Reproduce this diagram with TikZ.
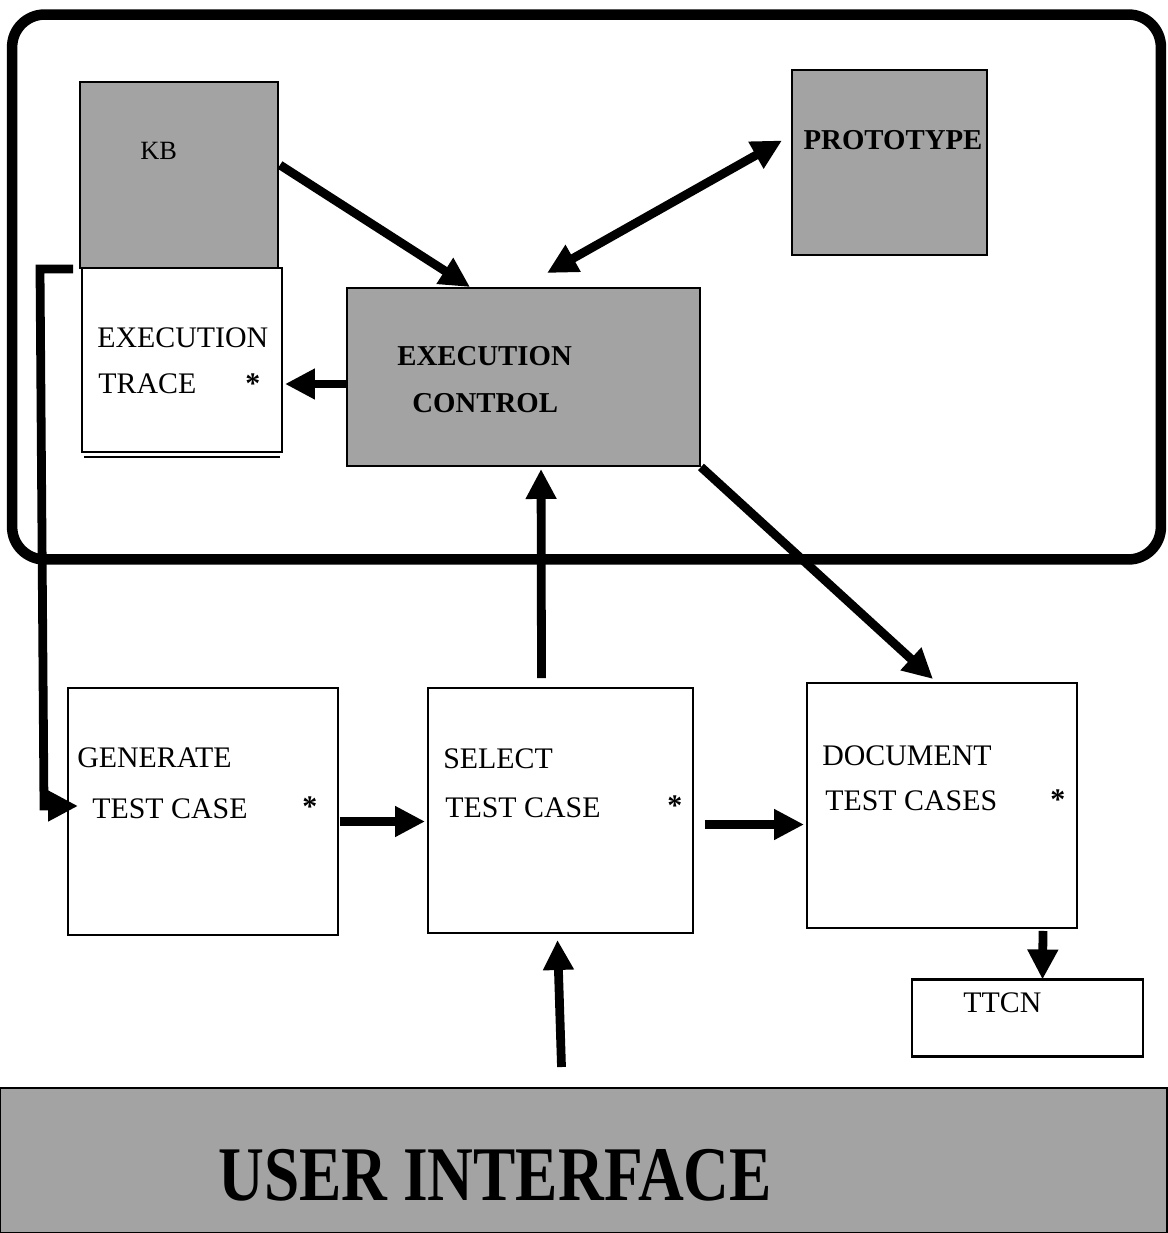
\documentclass[tikz,border=0pt]{standalone}
\usepackage{fontspec}
\usepackage{graphicx}
\setmainfont{Liberation Serif}
\usetikzlibrary{arrows.meta,calc}
\definecolor{screen}{gray}{0.64}
\begin{document}
\begin{tikzpicture}[x=0.02cm,y=-0.02cm,
  box/.style={draw=black,line width=1.5pt,inner sep=0,outer sep=0},
  shaded/.style={box,fill=screen},
  lbl/.style={inner sep=0,anchor=base west,font=\fontsize{17}{21}\selectfont},
  star/.style={lbl,font=\fontsize{17}{21}\selectfont\bfseries},
  blbl/.style={inner sep=0,anchor=base west,font=\fontsize{16.4}{20}\selectfont\bfseries},
  flow/.style={line width=5pt,-{Triangle[length=0.6cm,width=0.58cm]}},
  bothflow/.style={line width=5pt,{Triangle[length=0.6cm,width=0.58cm]}-{Triangle[length=0.6cm,width=0.58cm]}}
]
\useasboundingbox (0,0) rectangle (1167,1233);

% enclosing execution environment
\node[draw,line width=6pt,rounded corners=0.65cm,inner sep=0,
      minimum width=22.98cm,minimum height=10.9cm] (frame) at (586.5,287) {};

% knowledge base with its execution trace underneath
\node[shaded,minimum width=3.96cm,minimum height=3.72cm] (kb) at (179,175) {};
\node[box,fill=white,minimum width=4.0cm,minimum height=3.68cm] (trace) at (182,360) {};
\draw[line width=1.2pt] ($(trace.south west)+(2,5)$) -- ($(trace.south east)+(-2,5)$);
\node[lbl,font=\fontsize{15}{18}\selectfont] (kbt) at (140,160) {KB};
\node[lbl] (tr1) at (97,347) {EXECUTION};
\node[lbl] (tr2) at (98,393) {TRACE};
\node[star] (tr3) at (245,393) {*};

% prototype
\node[shaded,minimum width=3.9cm,minimum height=3.7cm] (proto) at (889.5,162.5) {};
\node[blbl,anchor=base] (prt) at (893,150) {PROTOTYPE};

% execution control
\node[shaded,minimum width=7.06cm,minimum height=3.56cm] (ctl) at (523.5,377) {};
\node[blbl] (ct1) at (397,365) {EXECUTION};
\node[blbl] (ct2) at (412,412) {CONTROL};

% test case pipeline
\node[box,minimum width=5.4cm,minimum height=4.94cm] (gen) at (203,811.5) {};
\node[lbl] (g1) at (77,767) {GENERATE};
\node[lbl] (g2) at (92,818) {TEST CASE};
\node[star] (g3) at (302,816) {*};

\node[box,minimum width=5.3cm,minimum height=4.9cm] (sel) at (560.5,810.5) {};
\node[lbl] (s1) at (443,768) {SELECT};
\node[lbl] (s2) at (445,817) {TEST CASE};
\node[star] (s3) at (667,815) {*};

\node[box,minimum width=5.4cm,minimum height=4.9cm] (doc) at (942,805.5) {};
\node[lbl] (d1) at (822,765) {DOCUMENT};
\node[lbl] (d2) at (825,810) {TEST CASES};
\node[star] (d3) at (1050,809) {*};

\node[box,minimum width=4.62cm,minimum height=1.54cm] (ttcn) at (1027.5,1018) {};
\node[lbl] (tt) at (963,1012) {TTCN};

% user interface band
\node[shaded,line width=1.2pt,minimum width=23.34cm,minimum height=2.9cm] (ui) at (583.5,1160.5) {};
\node[inner sep=0,anchor=base west,font=\fontsize{44}{50}\selectfont\bfseries] (uit) at (218,1200)
     {\scalebox{0.82}[1]{USER INTERFACE}};

% connectors
\draw[flow] ($(kb.north east)+(2,83)$) -- ($(ctl.north west)+(123,-1)$);
\draw[bothflow] ($(ctl.north west)+(200,-15)$) -- ($(proto.west)+(-10,-22)$);
\draw[flow] ($(ctl.west)+(0,7)$) -- ($(trace.east)+(3,24)$);
\draw[flow] ($(sel.north)+(-19,-10)$) -- ($(ctl.south west)+(194,3)$);
\draw[flow] ($(ctl.south east)+(1,1)$) -- ($(doc.north)+(-9,-4)$);
\draw[flow] ($(gen.east)+(2,10)$) -- ($(sel.west)+(-3,11)$);
\draw[flow] ($(sel.east)+(12,14)$) -- ($(doc.west)+(-3,19)$);
\draw[flow] ($(doc.south)+(101,3)$) -- ($(ttcn.north)+(15,0)$);
\draw[flow] ($(ui.north)+(-22,-21)$) -- ($(sel.south)+(-3,7)$);

% feedback from the trace back to generation
\coordinate (fbstart) at ($(trace.north west)+(-9,1)$);
\coordinate (fbturn) at (40,269);
\draw[flow,line join=miter] (fbstart) -- (fbturn) -- (44,806) -- ($(gen.west)+(10,-5.5)$);
\end{tikzpicture}
\end{document}
